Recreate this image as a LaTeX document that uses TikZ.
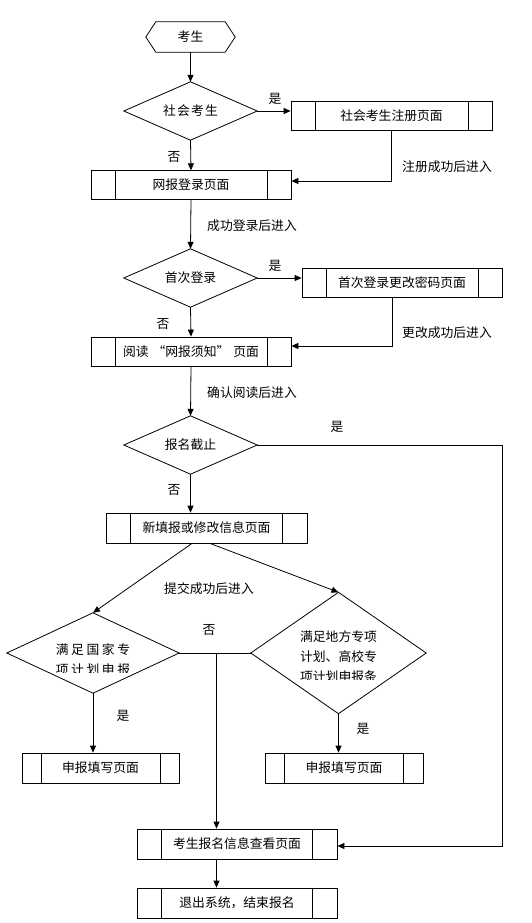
\documentclass[tikz,border=0pt]{standalone}
\usepackage{fontspec}
\setmainfont{Noto Sans CJK SC}
\usetikzlibrary{arrows.meta,calc}
\newcommand\gpa{\hspace{1.2pt}}
\newcommand\gpb{\hspace{2.6pt}}
\begin{document}
\begin{tikzpicture}[x=1pt,y=-1pt,
  every node/.style={font=\fontsize{12.8}{20}\selectfont, inner sep=0pt},
  line/.style={draw=black, line width=0.8pt},
  arr/.style={line, -{Triangle[length=7pt,width=6pt]}},
  proc/.style={draw=black, line width=0.8pt, minimum height=29pt, minimum width=200pt,
    path picture={
      \draw[line width=0.8pt] ([xshift=#1]path picture bounding box.north west) -- ([xshift=#1]path picture bounding box.south west);
      \draw[line width=0.8pt] ([xshift=-#1]path picture bounding box.north east) -- ([xshift=-#1]path picture bounding box.south east);}},
  proc/.default=24pt,
  dia/.style={minimum width=133pt, minimum height=58pt}
]
\fill[white] (0,0) rectangle (532,923);
\useasboundingbox (0,0) rectangle (532,923);

% start hexagon
\node[minimum width=89pt, minimum height=30pt] (start) at (190.5,37) {考生};
\draw[line] ([xshift=10pt]start.north west) -- ([xshift=-10pt]start.north east) -- (start.east)
  -- ([xshift=-10pt]start.south east) -- ([xshift=10pt]start.south west) -- (start.west) -- cycle;

% decisions
\node[dia] (d1) at (190.5,111) {社\gpa 会\gpa 考\gpa 生};
\node[dia] (d2) at (190.5,278) {首次登录};
\node[dia] (d3) at (190.5,445) {报名截止};
\node[minimum width=172pt, minimum height=80pt] (d4) at (93,653) {};
\node[minimum width=175pt, minimum height=121pt] (d5) at (338.5,653) {};
\foreach \d in {d1,d2,d3,d4,d5}
  \draw[line] (\d.north) -- (\d.east) -- (\d.south) -- (\d.west) -- cycle;
\begin{scope}
  \clip (0,600) rectangle (200,672);
  \node[align=center] (t4) at (93,659.5) {满\gpb 足\gpb 国\gpb 家\gpb 专\\项\gpb 计\gpb 划\gpb 申\gpb 报};
\end{scope}
\begin{scope}
  \clip (250,600) rectangle (430,679);
  \node[align=center] (t5) at (338.5,656.5) {满足地方专项\\计划、高校专\\项计划申报条};
\end{scope}

% process boxes
\node[proc, minimum width=201pt] (p1) at (391.5,115.5) {社会考生注册页面};
\node[proc, minimum height=28.6pt] (p2) at (191,185) {网报登录页面};
\node[proc] (p3) at (402,282.5) {首次登录更改密码页面};
\node[proc] (p4) at (191,351.5) {阅读\hspace{4pt}“网报须知”\hspace{4pt}页面};
\node[proc=24.5pt, minimum width=201pt, minimum height=30pt] (p5) at (206.5,528) {新填报或修改信息页面};
\node[proc=19pt, minimum width=157pt, minimum height=30pt] (p6) at (100.5,768) {申报填写页面};
\node[proc=19.5pt, minimum width=158pt, minimum height=30pt] (p7) at (344,768) {申报填写页面};
\node[proc=24.5pt, minimum height=30pt] (p8) at (237,844) {考生报名信息查看页面};
\node[proc=24.5pt, minimum height=30pt] (p9) at (237,903) {退出系统，结束报名};

% connectors
\draw[arr] (start.south) -- (d1.north);
\draw[arr] (d1.east) -- (d1.east -| p1.west);
\draw[arr] (d1.south) -- (p2.north);
\draw[arr] (p1.south) |- ([yshift=4pt]p2.east);
\draw[arr] (p2.south) -- (d2.north);
\draw[arr] (d2.east) -- (d2.east -| p3.west);
\draw[arr] (d2.south) -- (p4.north);
\draw[arr] ([xshift=-10pt]p3.south) |- ([yshift=5.5pt]p4.east);
\draw[arr] (p4.south) -- (d3.north);
\draw[arr] (d3.south) -- (d3.south |- p5.north);
\draw[arr] ([xshift=-14.5pt]p5.south) -- (d4.north);
\draw[arr] ([xshift=3.5pt]p5.south) -- (d5.north);
\draw[line] (d4.east) -- (d5.west);
\coordinate (j) at (216.5,653);
\draw[arr] (j) -- (j |- p8.north);
\draw[arr] (d4.south) -- (d4.south |- p6.north);
\draw[arr] (d5.south) -- (d5.south |- p7.north);
\draw[arr] (p8.south -| j) -- (p9.north -| j);
\coordinate (rc) at (502,846);
\draw[arr] (d3.east) -| (rc) -- (rc -| p8.east);

% labels
\node (l1) at (275,99) {是};
\node (l2) at (174,157) {否};
\node (l3) at (447,167) {注册成功后进入};
\node (l4) at (252,226) {成功登录后进入};
\node (l5) at (275,266) {是};
\node (l6) at (163,324) {否};
\node (l7) at (447,333) {更改成功后进入};
\node (l8) at (252,393) {确认阅读后进入};
\node (l9) at (337,427) {是};
\node (l10) at (174,490) {否};
\node (l11) at (209,589) {提交成功后进入};
\node (l12) at (209,630) {否};
\node (l13) at (123,716) {是};
\node (l14) at (363,729) {是};
\end{tikzpicture}
\end{document}
